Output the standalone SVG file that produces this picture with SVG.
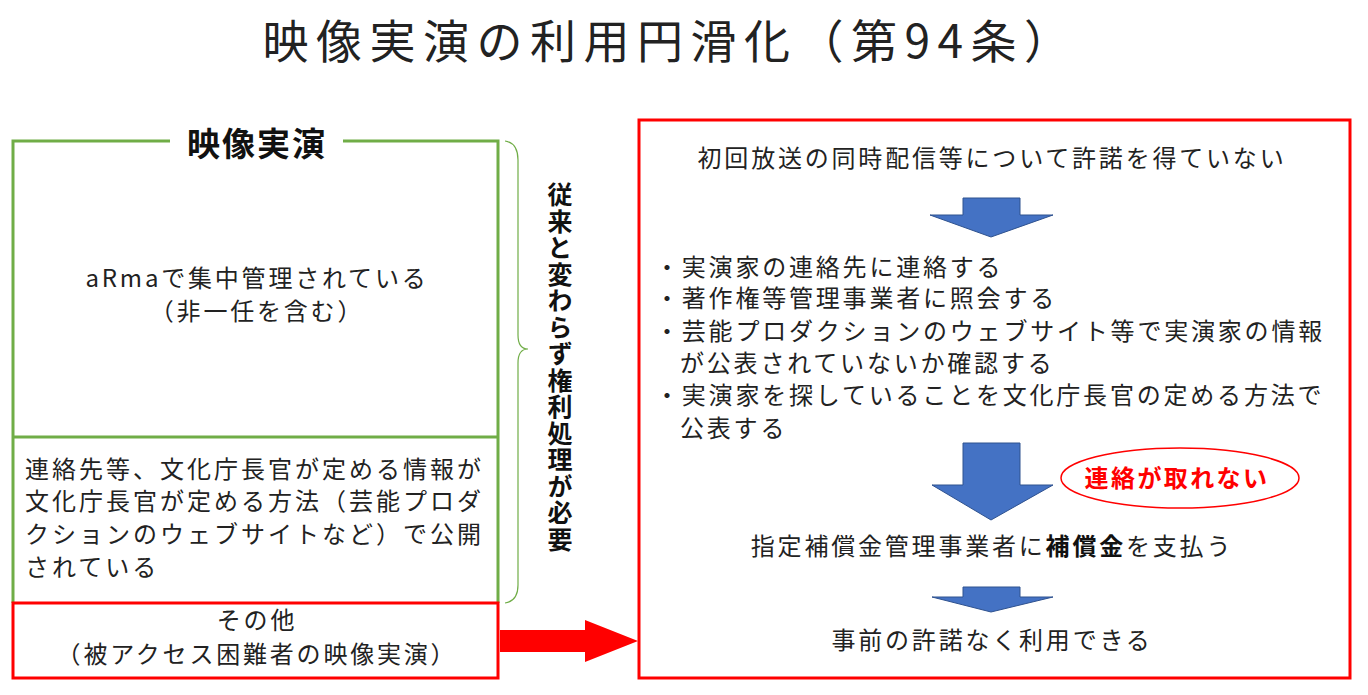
<svg xmlns="http://www.w3.org/2000/svg" width="1368" height="695" viewBox="0 0 1368 695">
<style>
text{font-family:"Noto Sans CJK JP","Noto Sans",sans-serif;fill:#222}
.t{font-size:24px;letter-spacing:2.8px}
.c{text-anchor:middle}
.b{font-weight:bold}
.blue{fill:#4472C4;stroke:#2F528F;stroke-width:1}
</style>
<rect width="1368" height="695" fill="#fff"/>
<text x="670" y="58" class="c" font-size="46" letter-spacing="7.5">映像実演の利用円滑化（第94条）</text>
<g id="left-green">
<path d="M170 141H13V603M498 603V141H343" fill="none" stroke="#70AD47" stroke-width="3"/>
<line x1="13" y1="437" x2="498" y2="437" stroke="#70AD47" stroke-width="3"/>
<text x="257" y="156" class="c b" font-size="33" letter-spacing="2" style="fill:#111">映像実演</text>
<text x="257" y="287" class="c t">aRmaで集中管理されている</text>
<text x="257" y="320" class="c t">（非一任を含む）</text>
<text x="25" y="478" class="t" style="letter-spacing:3px">連絡先等、文化庁長官が定める情報が</text>
<text x="25" y="510" class="t" style="letter-spacing:3px">文化庁長官が定める方法（芸能プロダ</text>
<text x="25" y="543" class="t" style="letter-spacing:3px">クションのウェブサイトなど）で公開</text>
<text x="25" y="576" class="t" style="letter-spacing:3px">されている</text>
</g>
<g id="left-red">
<rect x="13" y="603" width="485" height="75" fill="none" stroke="#f00" stroke-width="3"/>
<text x="257" y="629" class="c t">その他</text>
<text x="257" y="663" class="c t">（被アクセス困難者の映像実演）</text>
</g>
<g id="brace">
<path d="M505 141Q518 143 518 160V335Q518 349 528 349Q518 349 518 363V585Q518 601 505 603" fill="none" stroke="#70AD47" stroke-width="1.2"/>
<text x="560" y="182" class="b" style="fill:#111;writing-mode:vertical-rl;letter-spacing:1.5px" font-size="25">従来と変わらず権利処理が必要</text>
</g>
<g id="connectors">
<polygon points="500,630 585,630 585,620 638,641 585,662 585,652 500,652" fill="#f00"/>
</g>
<g id="right">
<rect x="639" y="120" width="711" height="558" fill="none" stroke="#f00" stroke-width="3"/>
<text x="992" y="167" class="c t">初回放送の同時配信等について許諾を得ていない</text>
<polygon class="blue" points="963,198 1020,198 1020,215 1053,215 991,237 930,215 963,215"/>
<text x="655" y="276" class="t">・実演家の連絡先に連絡する</text>
<text x="655" y="307" class="t">・著作権等管理事業者に照会する</text>
<text x="655" y="340" class="t">・芸能プロダクションのウェブサイト等で実演家の情報</text>
<text x="680" y="372" class="t">が公表されていないか確認する</text>
<text x="655" y="404" class="t">・実演家を探していることを文化庁長官の定める方法で</text>
<text x="680" y="437" class="t">公表する</text>
<polygon class="blue" points="963,443 1020,443 1020,485 1053,485 991,520 932,485 963,485"/>
<ellipse cx="1180" cy="478" rx="119" ry="30" fill="none" stroke="#f00" stroke-width="1.5"/>
<text x="1177" y="487" class="c b t" style="fill:#f00;letter-spacing:2.4px">連絡が取れない</text>
<text x="992" y="555" class="c t">指定補償金管理事業者に<tspan class="b" style="fill:#111">補償金</tspan>を支払う</text>
<polygon class="blue" points="963,587 1020,587 1020,597 1053,597 991,612 932,597 963,597"/>
<text x="992" y="649" class="c t">事前の許諾なく利用できる</text>
</g>
</svg>
